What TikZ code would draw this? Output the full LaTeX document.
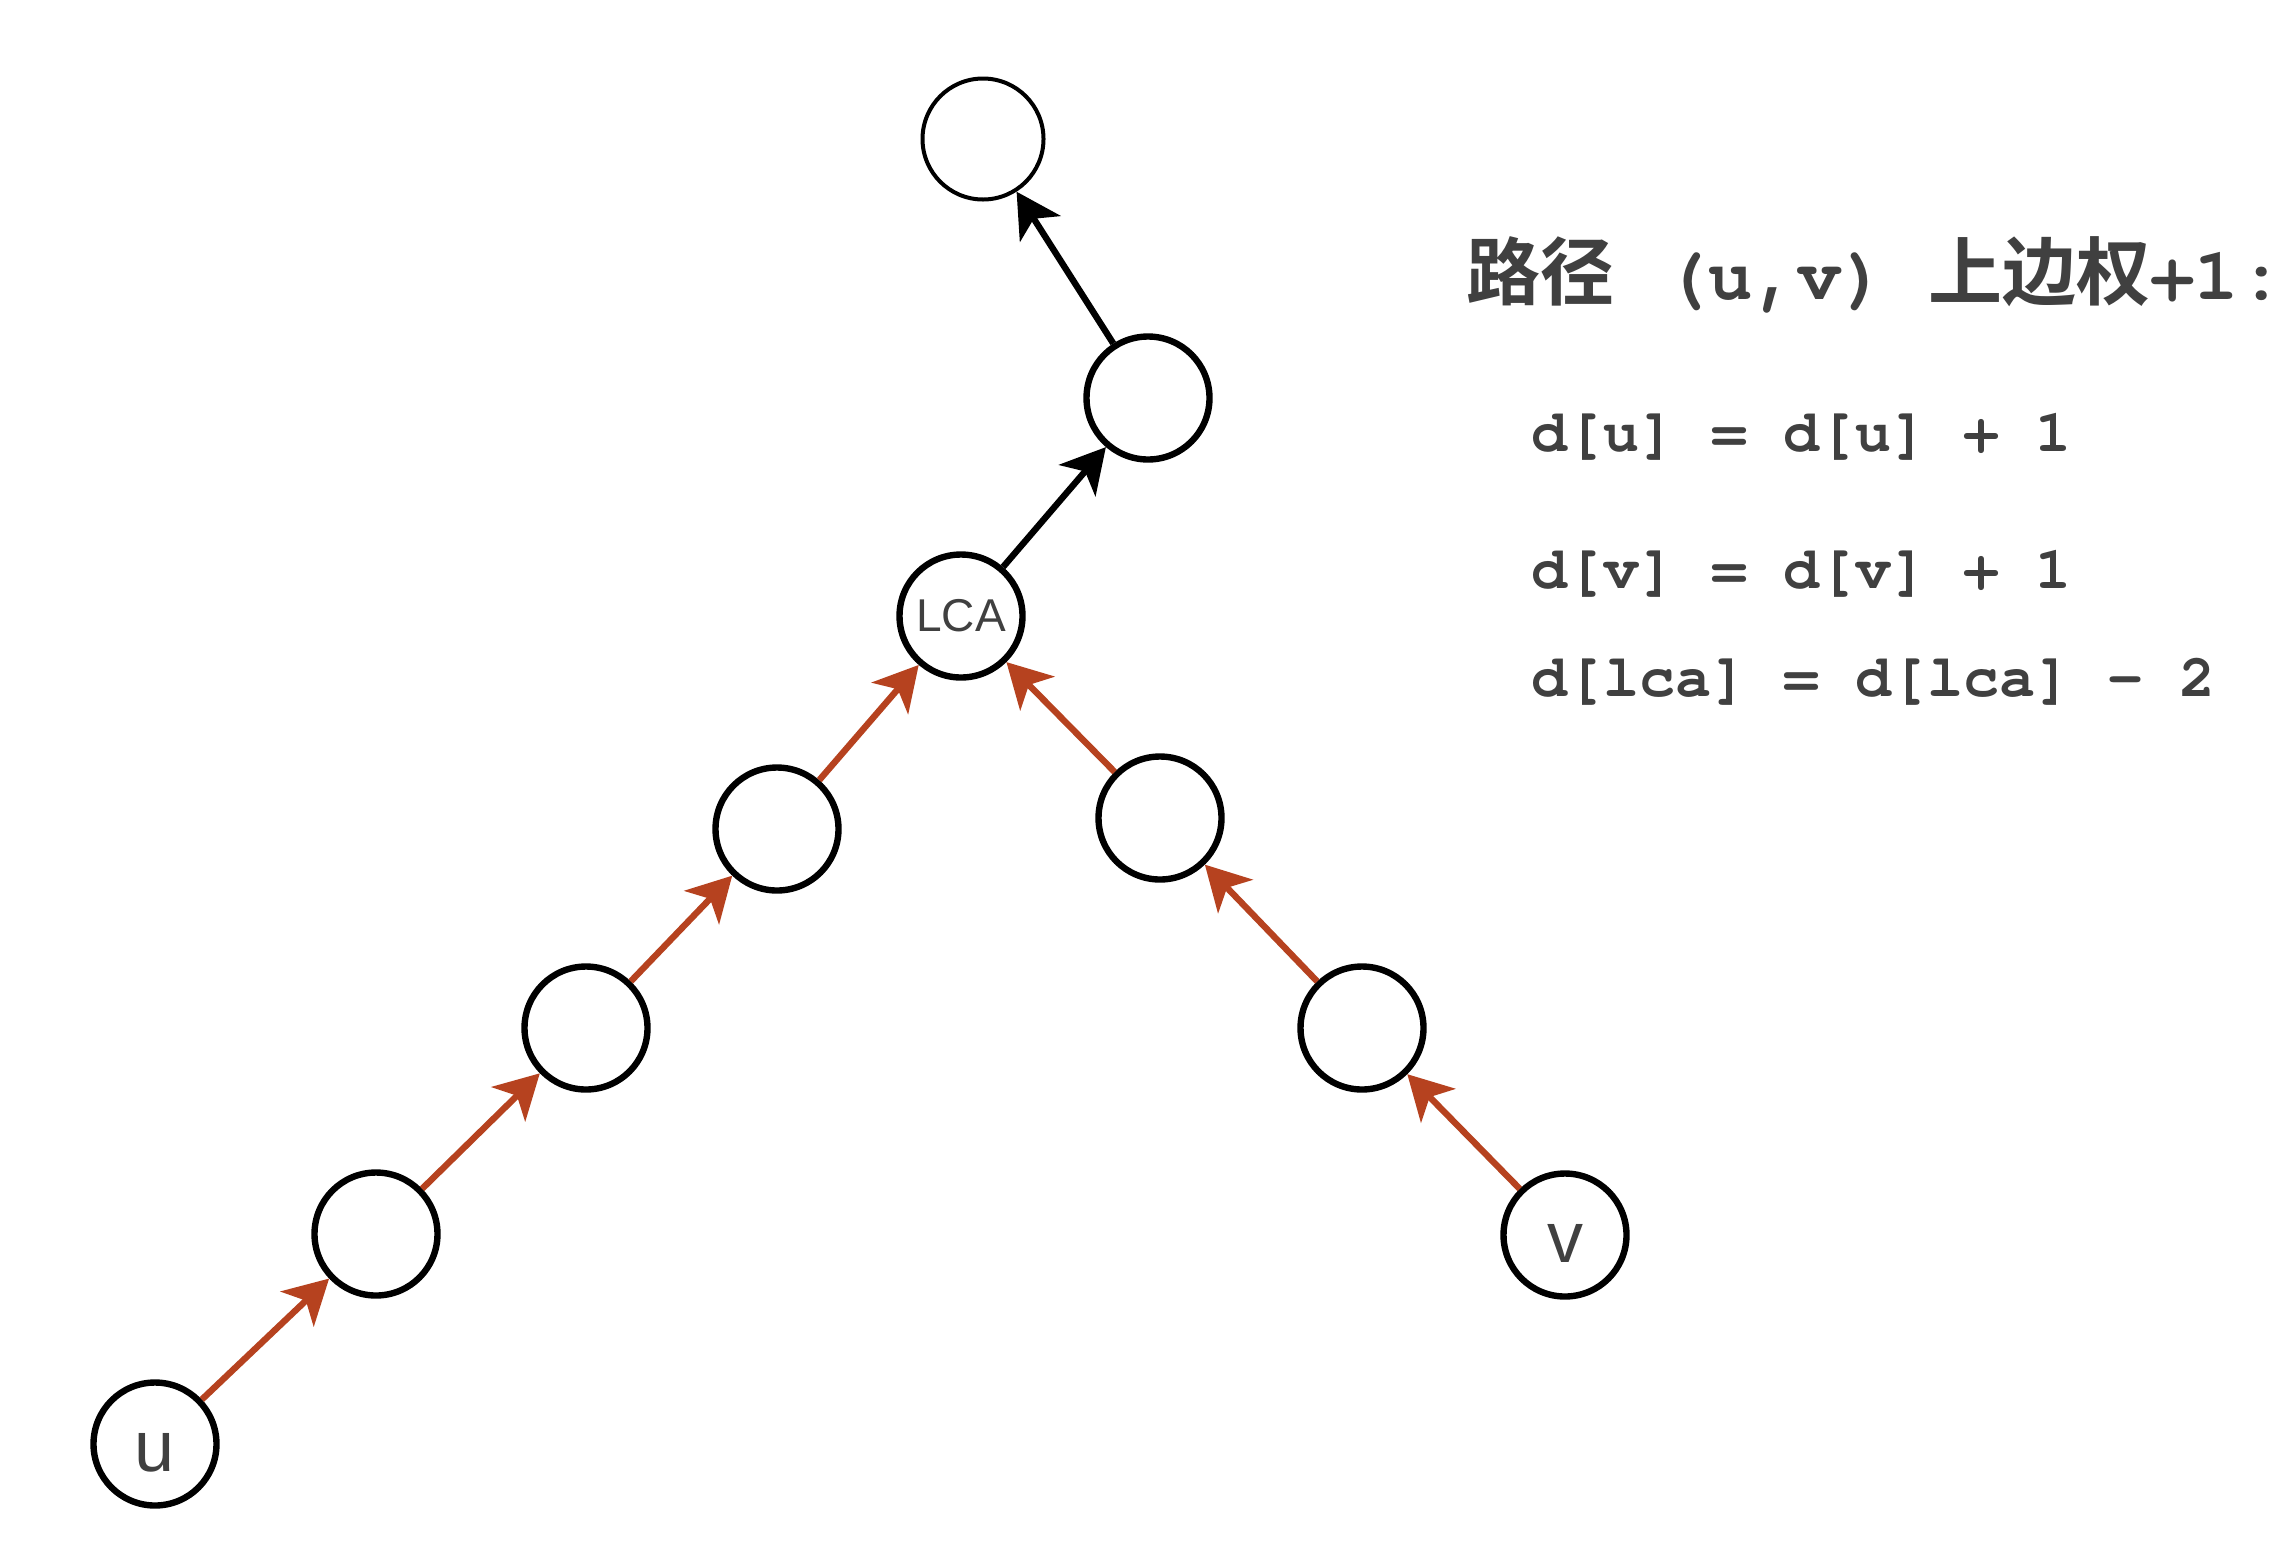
\documentclass[tikz,border=0pt]{standalone}
\usepackage{fontspec}
\setmainfont{Liberation Sans}
\newfontfamily\cjkfnt{Noto Sans CJK SC}[BoldFont={Noto Sans CJK SC Bold}]
\newfontfamily\codefnt{TeX Gyre Cursor}
\usetikzlibrary{arrows.meta}
\definecolor{txt}{RGB}{64,64,64}
\definecolor{edgered}{RGB}{182,66,31}
\begin{document}
\begin{tikzpicture}[x=0.5pt,y=-0.5pt,
  vtx/.style={circle,draw=black,line width=3.2pt,minimum size=61.5pt,inner sep=0pt,fill=white,text=txt},
  rootvtx/.style={circle,draw=black,line width=2pt,minimum size=60.5pt,inner sep=0pt,fill=white},
  tipshape/.style={-{Stealth[length=22pt,width=24pt,inset=6pt]}},
  redge/.style={draw=edgered,line width=3.2pt,tipshape},
  bedge/.style={draw=black,line width=3.2pt,tipshape},
  eqtext/.style={anchor=base west,inner sep=0pt,text=txt,font=\codefnt\bfseries\fontsize{30pt}{32pt}\selectfont}
]
\useasboundingbox[fill=white] (0,0) rectangle (2296,1548);

% nodes
\node[rootvtx] (top) at (983,139) {};
\node[vtx] (n2) at (1148,398) {};
\node[vtx,font=\fontsize{23pt}{26pt}\selectfont] (lca) at (961,616) {LCA};
\node[vtx] (l1) at (777,829) {};
\node[vtx] (l2) at (586,1028) {};
\node[vtx] (l3) at (376,1234) {};
\node[vtx,font=\fontsize{36pt}{40pt}\selectfont,text height=27.5pt,text depth=0pt] (u) at (155,1444) {u};
\node[vtx] (r1) at (1160,818) {};
\node[vtx] (r2) at (1362,1028) {};
\node[vtx,font=\fontsize{36pt}{40pt}\selectfont,text height=27.5pt,text depth=0pt] (v) at (1565,1235) {v};

% edges
\draw[redge] (u) -- (l3);
\draw[redge] (l3) -- (l2);
\draw[redge] (l2) -- (l1);
\draw[redge] (l1) -- (lca);
\draw[redge] (v) -- (r2);
\draw[redge] (r2) -- (r1);
\draw[redge] (r1) -- (lca);
\draw[bedge] (lca) -- (n2);
\draw[bedge] (n2) -- (top);

% text
\node[anchor=base west,inner sep=0pt,text=txt] (title) at (1466,299)
  {{\cjkfnt\bfseries\fontsize{37pt}{40pt}\selectfont 路径}\hspace{25pt}{\codefnt\bfseries\fontsize{37pt}{40pt}\selectfont (u,v)}\hspace{21pt}{\cjkfnt\bfseries\fontsize{37pt}{40pt}\selectfont 上边权}{\codefnt\bfseries\fontsize{37pt}{40pt}\selectfont +1:}};
\node[eqtext] (eq1) at (1531,451) {d[u] = d[u] + 1};
\node[eqtext] (eq2) at (1531,588) {d[v] = d[v] + 1};
\node[eqtext] (eq3) at (1531,696) {d[lca] = d[lca] - 2};
\end{tikzpicture}
\end{document}
